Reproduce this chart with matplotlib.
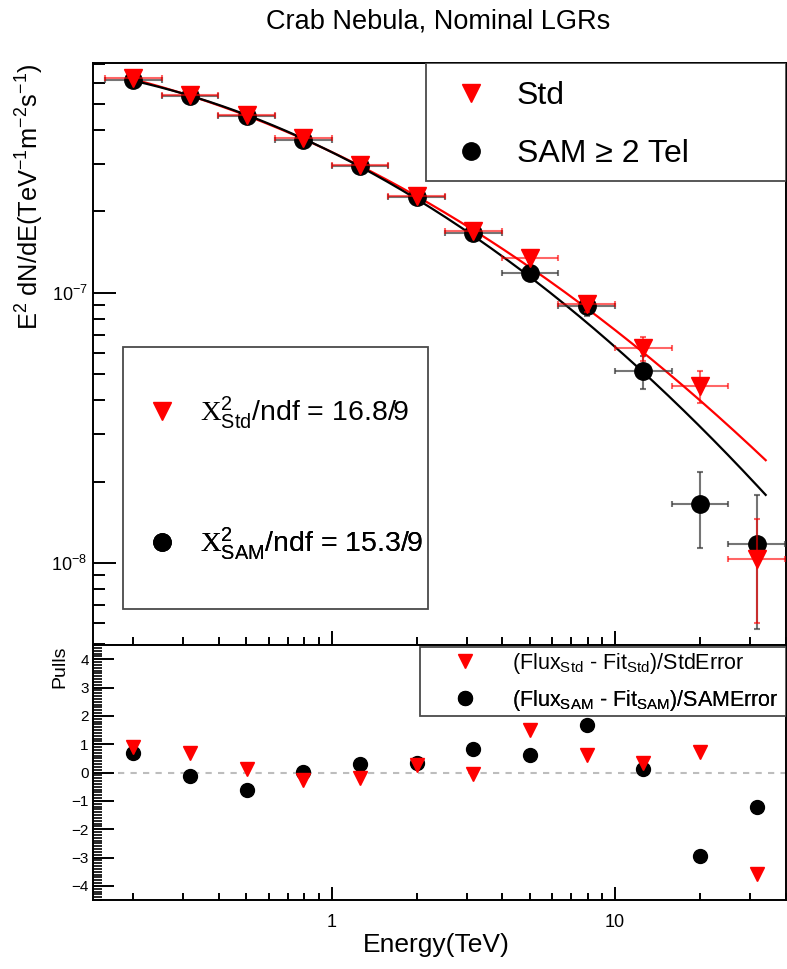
import numpy as np
import matplotlib
matplotlib.use("Agg")
import matplotlib.pyplot as plt
from matplotlib.ticker import (LogLocator, NullFormatter, FuncFormatter,
                               MultipleLocator)
from matplotlib.lines import Line2D
from matplotlib.patches import Rectangle

plt.rcParams.update({
    "font.family": ["Liberation Sans", "DejaVu Sans"],
    "mathtext.fontset": "custom",
    "mathtext.rm": "Liberation Serif",
    "mathtext.sf": "Liberation Sans",
    "mathtext.it": "Liberation Sans:italic",
    "mathtext.bf": "Liberation Sans:bold",
})

# ---------------------------------------------------------------- data
# energy bin edges in TeV (0.2 decade bins)
energy_edges = [0.1585, 0.2512, 0.3981, 0.6310, 1.0, 1.585, 2.512,
                3.981, 6.310, 10.0, 15.85, 25.12, 39.81]

# E^2 dN/dE  [TeV^-1 m^-2 s^-1]
flux_std = [6.22e-7, 5.40e-7, 4.55e-7, 3.73e-7, 2.97e-7, 2.29e-7,
            1.70e-7, 1.34e-7, 9.08e-8, 6.23e-8, 4.52e-8, 1.03e-8]
err_std = [1.2e-8, 0.9e-8, 0.75e-8, 0.6e-8, 0.5e-8, 0.4e-8,
           0.35e-8, 0.4e-8, 0.6e-8, 0.65e-8, 0.6e-8, 0.43e-8]

flux_sam = [6.12e-7, 5.34e-7, 4.51e-7, 3.69e-7, 2.94e-7, 2.26e-7,
            1.66e-7, 1.18e-7, 8.91e-8, 5.12e-8, 1.66e-8, 1.18e-8]
err_sam = [1.2e-8, 0.9e-8, 0.7e-8, 0.55e-8, 0.45e-8, 0.4e-8,
           0.4e-8, 0.5e-8, 0.72e-8, 0.7e-8, 0.52e-8, 0.61e-8]

pull_std = [0.90, 0.69, 0.14, -0.27, -0.19, 0.26, -0.07, 1.49, 0.61, 0.32, 0.73, -3.58]
pull_sam = [0.70, -0.12, -0.62, 0.02, 0.31, 0.35, 0.82, 0.61, 1.67, 0.11, -2.95, -1.21]

# log-parabola fits: log10(E^2 dN/dE) = a + b*log10(E) + c*log10(E)^2
fit_std = (-6.4786, -0.4974, -0.1617)
fit_sam = (-6.4790, -0.5190, -0.2022)
fit_range = (0.2, 34.0)

chi2_std, ndf_std = 16.8, 9
chi2_sam, ndf_sam = 15.3, 9

# ---------------------------------------------------------------- derived
edges = np.array(energy_edges)
energy = np.sqrt(edges[:-1] * edges[1:])
xerr = np.vstack([energy - edges[:-1], edges[1:] - energy])


def log_parabola(e, pars):
    a, b, c = pars
    le = np.log10(e)
    return 10 ** (a + b * le + c * le ** 2)


e_fit = np.logspace(np.log10(fit_range[0]), np.log10(fit_range[1]), 300)

RED = "#ff0000"
W, H = 787, 969

fig = plt.figure(figsize=(W / 100, H / 100), dpi=100)
fig.patch.set_facecolor("white")
ax = fig.add_axes([93 / W, 1 - 645 / H, 693 / W, 582 / H])
axp = fig.add_axes([93 / W, 1 - 900 / H, 693 / W, 255 / H], sharex=ax)

# ---------------------------------------------------------------- spectrum
ax.plot(e_fit, log_parabola(e_fit, fit_std), color=RED, lw=1.6, zorder=2)
ax.plot(e_fit, log_parabola(e_fit, fit_sam), color="black", lw=1.6, zorder=2)

ax.errorbar(energy, flux_sam, xerr=xerr, yerr=err_sam, fmt="none",
            ecolor="#3a3a3a", alpha=0.7, elinewidth=1.5, capsize=2.5,
            capthick=1.5, zorder=3)
ax.plot(energy, flux_sam, "o", color="black", ms=12.5, zorder=4)
ax.errorbar(energy, flux_std, xerr=xerr, yerr=err_std, fmt="none",
            ecolor=RED, alpha=0.6, elinewidth=1.5, capsize=2.5,
            capthick=1.5, zorder=5)
ax.plot(energy, flux_std, "v", color=RED, ms=12.5, zorder=6)

ax.set_xscale("log")
ax.set_yscale("log")
ax.set_xlim(0.144, 40.1)
ax.set_ylim(4.97e-9, 7.09e-7)

ax.yaxis.set_major_locator(LogLocator(base=10, numticks=10))
ax.yaxis.set_minor_locator(LogLocator(base=10, subs=np.arange(2, 10), numticks=20))
ax.yaxis.set_minor_formatter(NullFormatter())
ax.xaxis.set_major_locator(LogLocator(base=10, numticks=10))
ax.xaxis.set_minor_locator(LogLocator(base=10, subs=np.arange(2, 10), numticks=20))
ax.xaxis.set_minor_formatter(NullFormatter())

ax.tick_params(axis="y", which="major", direction="in", length=16.5, width=1.4,
               labelsize=13, pad=4)
ax.tick_params(axis="y", which="minor", direction="in", length=8.6, width=1.4)
ax.tick_params(axis="x", which="major", direction="in", length=10, width=1.4,
               labelbottom=False)
ax.tick_params(axis="x", which="minor", direction="in", length=5.5, width=1.4)
for s in ax.spines.values():
    s.set_linewidth(1.4)

# legend box, top right
ax.add_patch(Rectangle((0.4805, 0.797), 0.5195, 0.203, transform=ax.transAxes,
                       facecolor="white", edgecolor="#4a4a4a", lw=1.3, zorder=8))
# chi2 box
ax.add_patch(Rectangle((0.0433, 0.0619), 0.4401, 0.4501, transform=ax.transAxes,
                       facecolor="white", edgecolor="#4a4a4a", lw=1.3, zorder=8))


def entry(axis, handle, label, anchor, fontsize, textpad):
    leg = axis.legend([handle], [label], loc="center left", bbox_to_anchor=anchor,
                      bbox_transform=axis.transAxes, frameon=False,
                      fontsize=fontsize, handlelength=1.0,
                      handletextpad=textpad, borderpad=0, borderaxespad=0,
                      numpoints=1)
    leg.set_zorder(10)
    axis.add_artist(leg)


tri_big = Line2D([], [], ls="none", marker="v", color=RED, ms=12.5)
dot_big = Line2D([], [], ls="none", marker="o", color="black", ms=12.5)
tri_small = Line2D([], [], ls="none", marker="v", color=RED, ms=10)
dot_small = Line2D([], [], ls="none", marker="o", color="black", ms=10)

entry(ax, tri_big, "Std", (0.5224, 0.943), 23, 0.94)
entry(ax, dot_big, "SAM \u2265 2 Tel", (0.5224, 0.8435), 23, 0.94)

entry(ax, tri_big,
      r"$\mathrm{X}^{\mathsf{2}}_{\mathsf{Std}}$" + f"/ndf = {chi2_std:.1f}/{ndf_std}",
      (0.0791, 0.3985), 20.5, 0.84)
entry(ax, dot_big,
      r"$\mathrm{X}^{\mathsf{2}}_{\mathsf{SAM}}$" + f"/ndf = {chi2_sam:.1f}/{ndf_sam}",
      (0.0791, 0.1735), 20.5, 0.84)

# ---------------------------------------------------------------- pulls
axp.axhline(0, color="#bdbdbd", lw=1.5, ls=(0, (3, 3)), zorder=1)
axp.plot(energy, pull_sam, "o", color="black", ms=10, zorder=3)
axp.plot(energy, pull_std, "v", color=RED, ms=10, zorder=4)
axp.set_ylim(-4.5, 4.5)
axp.yaxis.set_major_locator(MultipleLocator(1))
axp.yaxis.set_minor_locator(MultipleLocator(0.1))
axp.xaxis.set_major_formatter(FuncFormatter(lambda v, _: f"{v:g}"))
axp.tick_params(axis="y", which="major", direction="in", length=15, width=1.4,
                labelsize=11, pad=3)
axp.tick_params(axis="y", which="minor", direction="in", length=6.5, width=1.2)
axp.tick_params(axis="x", which="major", direction="in", length=9.4, width=1.4,
                labelsize=13, pad=10)
axp.tick_params(axis="x", which="minor", direction="in", length=5, width=1.4)
for s in axp.spines.values():
    s.set_linewidth(1.4)

axp.add_patch(Rectangle((0.4719, 0.7216), 0.5281, 0.27, transform=axp.transAxes,
                        facecolor="white", edgecolor="#4a4a4a", lw=1.3, zorder=8))
entry(axp, tri_small, r"(Flux$_{\mathsf{Std}}$ - Fit$_{\mathsf{Std}}$)/StdError",
      (0.5209, 0.9294), 15.5, 1.7)
entry(axp, dot_small, r"(Flux$_{\mathsf{SAM}}$ - Fit$_{\mathsf{SAM}}$)/SAMError",
      (0.5209, 0.7843), 15.5, 1.7)

# ---------------------------------------------------------------- labels
fig.text(438 / W, 1 - 22 / H, "Crab Nebula, Nominal LGRs", ha="center",
         va="center", fontsize=19.5)
fig.text(30 / W, 1 - 63 / H,
         r"E$^{\mathsf{2}}$ dN/dE(TeV$^{\mathsf{-1}}$m$^{\mathsf{-2}}$s$^{\mathsf{-1}}$)",
         rotation=90, ha="center", va="top", fontsize=18.3)
fig.text(60 / W, 1 - 645 / H, "Pulls", rotation=90, ha="center", va="top",
         fontsize=14)
fig.text(436 / W, 1 - 945 / H, "Energy(TeV)", ha="center", va="center",
         fontsize=19)

fig.savefig("out.png", dpi=100)
